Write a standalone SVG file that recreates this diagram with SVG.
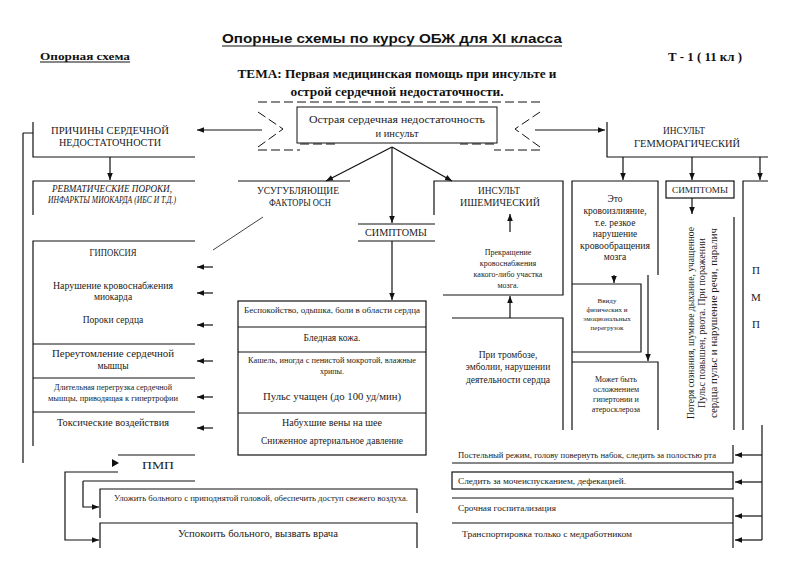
<svg xmlns="http://www.w3.org/2000/svg" width="800" height="565" viewBox="0 0 800 565">
<style>
.t{font-family:"Liberation Serif","Times New Roman",serif;font-size:9.5px;fill:#1a1a1a}
.c{text-anchor:middle}
.s{font-size:8px}
.xs{font-size:7px}
.b{font-size:10.5px}
.p{font-size:11px}
.ln{fill:none;stroke:#111;stroke-width:1.2}
.th{fill:none;stroke:#111;stroke-width:0.8}
.ds{fill:none;stroke:#111;stroke-width:1;stroke-dasharray:9 4}
.ar{fill:none;stroke:#111;stroke-width:1.2;marker-end:url(#ah)}
</style>
<defs>
<marker id="ah" viewBox="0 0 10 10" refX="10" refY="5" markerUnits="userSpaceOnUse" markerWidth="7" markerHeight="7" orient="auto"><path d="M0,1 L10,5 L0,9 z" fill="#111"/></marker>
</defs>
<rect width="800" height="565" fill="#fff"/>

<g id="header">
<text x="392" y="43" text-anchor="middle" font-family="Liberation Sans,Arial,sans-serif" font-weight="bold" font-size="13.5" fill="#111" textLength="340" lengthAdjust="spacingAndGlyphs">Опорные схемы по курсу ОБЖ для XI класса</text>
<line x1="222" y1="46" x2="562" y2="46" stroke="#111" stroke-width="1.2"/>
<text x="40" y="60" font-family="Liberation Serif,serif" font-weight="bold" font-size="11" fill="#111" textLength="90" lengthAdjust="spacingAndGlyphs">Опорная схема</text>
<line x1="40" y1="62" x2="130" y2="62" stroke="#111" stroke-width="1"/>
<text x="668" y="61" font-family="Liberation Serif,serif" font-weight="bold" font-size="12.5" fill="#111" textLength="74" lengthAdjust="spacingAndGlyphs">Т - 1 ( 11 кл )</text>
<text x="397" y="78" text-anchor="middle" font-family="Liberation Serif,serif" font-weight="bold" font-size="12.5" fill="#111" textLength="319" lengthAdjust="spacingAndGlyphs">ТЕМА: Первая медицинская помощь при инсульте и</text>
<text x="397" y="96" text-anchor="middle" font-family="Liberation Serif,serif" font-weight="bold" font-size="12.5" fill="#111" textLength="213" lengthAdjust="spacingAndGlyphs">острой сердечной недостаточности.</text>
</g>

<g id="banner">
<path class="ds" d="M258,102 H540 M258,112 L283,129 L258,147 M258,150 H300 M300,144 H335 M540,112 L515,129 L540,147 M540,150 H494 M494,144 H460"/>
<rect x="297" y="107" width="200" height="36" fill="#fff" stroke="#111" stroke-width="1"/>
<text class="t c b" x="397" y="123" textLength="176" lengthAdjust="spacingAndGlyphs">Острая сердечная недостаточность</text>
<text class="t c b" x="397" y="137">и инсульт</text>
</g>

<g id="prichiny">
<path class="ln" d="M23,133 H33 M33,122 V157 H195"/>
<text class="t c" x="110" y="134" textLength="118" lengthAdjust="spacingAndGlyphs">ПРИЧИНЫ СЕРДЕЧНОЙ</text>
<text class="t c" x="110" y="146" textLength="102" lengthAdjust="spacingAndGlyphs">НЕДОСТАТОЧНОСТИ</text>
</g>

<g id="revmat">
<path class="ln" d="M33,215 V181 H195"/>
<text class="t c" x="112" y="192" font-style="italic" textLength="120" lengthAdjust="spacingAndGlyphs">РЕВМАТИЧЕСКИЕ ПОРОКИ,</text>
<text class="t c" x="112" y="203" font-style="italic" textLength="128" lengthAdjust="spacingAndGlyphs">ИНФАРКТЫ МИОКАРДА (ИБС И Т.Д.)</text>
</g>

<g id="usug">
<path class="ln" d="M238,181 H350"/>
<text class="t c" x="298" y="194" textLength="82" lengthAdjust="spacingAndGlyphs">УСУГУБЛЯЮЩИЕ</text>
<text class="t c" x="300" y="206" textLength="62" lengthAdjust="spacingAndGlyphs">ФАКТОРЫ ОСН</text>
</g>

<g id="simptomy1">
<path class="ln" d="M358,224 H435 M358,241 H435"/>
<text class="t c" x="396" y="236" textLength="62" lengthAdjust="spacingAndGlyphs">СИМПТОМЫ</text>
</g>

<g id="causes">
<path class="ln" d="M195,241 H33 V446 M33,344 H195 M33,378 H195 M33,412 H195"/>
<text class="t c" x="113" y="256" textLength="47" lengthAdjust="spacingAndGlyphs">ГИПОКСИЯ</text>
<text class="t c" x="113" y="289" textLength="120" lengthAdjust="spacingAndGlyphs">Нарушение кровоснабжения</text>
<text class="t c" x="113" y="300">миокарда</text>
<text class="t c" x="113" y="323">Пороки сердца</text>
<text class="t c" x="113" y="357" textLength="122" lengthAdjust="spacingAndGlyphs">Переутомление сердечной</text>
<text class="t c" x="113" y="369">мышцы</text>
<text class="t c s" x="113" y="390" textLength="118" lengthAdjust="spacingAndGlyphs">Длительная перегрузка сердечной</text>
<text class="t c s" x="113" y="401" textLength="130" lengthAdjust="spacingAndGlyphs">мышцы, приводящая к гипертрофии</text>
<text class="t c" x="113" y="426" textLength="112" lengthAdjust="spacingAndGlyphs">Токсические воздействия</text>
</g>

<g id="symptoms">
<rect x="238" y="301" width="188" height="154" fill="none" stroke="#111" stroke-width="1.2"/>
<path class="ln" d="M238,327 H426 M238,352 H426 M238,413 H426"/>
<text class="t c s" x="332" y="313" textLength="176" lengthAdjust="spacingAndGlyphs">Беспокойство, одышка, боли в области сердца</text>
<text class="t c" x="332" y="341">Бледная кожа.</text>
<text class="t c s" x="332" y="363" textLength="168" lengthAdjust="spacingAndGlyphs">Кашель, иногда с пенистой мокротой, влажные</text>
<text class="t c s" x="332" y="374">хрипы.</text>
<text class="t c" x="332" y="400" textLength="138" lengthAdjust="spacingAndGlyphs">Пульс учащен (до 100 уд/мин)</text>
<text class="t c" x="332" y="426" textLength="100" lengthAdjust="spacingAndGlyphs">Набухшие вены на шее</text>
<text class="t c" x="332" y="444" textLength="142" lengthAdjust="spacingAndGlyphs">Сниженное артериальное давление</text>
</g>

<g id="ishem">
<path class="ln" d="M434,215 V181 H563 V295 H443"/>
<text class="t c" x="499" y="194" textLength="42" lengthAdjust="spacingAndGlyphs">ИНСУЛЬТ</text>
<text class="t c" x="500" y="206" textLength="80" lengthAdjust="spacingAndGlyphs">ИШЕМИЧЕСКИЙ</text>
<text class="t c s" x="508" y="255">Прекращение</text>
<text class="t c s" x="508" y="266">кровоснабжения</text>
<text class="t c s" x="508" y="277">какого-либо участка</text>
<text class="t c s" x="508" y="288">мозга.</text>
</g>

<g id="tromb">
<path class="ln" d="M452,318 H563 V430"/>
<text class="t c" x="508" y="358">При тромбозе,</text>
<text class="t c" x="508" y="370">эмболии, нарушении</text>
<text class="t c" x="508" y="383">деятельности сердца</text>
</g>

<g id="krovo">
<path class="ln" d="M572,430 V181 H658 V275"/>
<text class="t c" x="615" y="202">Это</text>
<text class="t c" x="615" y="214">кровоизлияние,</text>
<text class="t c" x="615" y="226">т.е. резкое</text>
<text class="t c" x="615" y="237">нарушение</text>
<text class="t c" x="615" y="249" textLength="70" lengthAdjust="spacingAndGlyphs">кровообращения</text>
<text class="t c" x="615" y="260">мозга</text>
</g>

<g id="vvidu">
<path class="ln" d="M572,284 H641 V352 H572"/>
<text class="t c xs" x="607" y="303">Ввиду</text>
<text class="t c xs" x="607" y="312">физических и</text>
<text class="t c xs" x="607" y="321">эмоциональных</text>
<text class="t c xs" x="607" y="330">перегрузок</text>
</g>

<g id="mozhet">
<path class="ln" d="M572,362 H658 V430"/>
<text class="t c s" x="616" y="382">Может быть</text>
<text class="t c s" x="616" y="392">осложнением</text>
<text class="t c s" x="616" y="402">гипертонии и</text>
<text class="t c s" x="616" y="412">атеросклероза</text>
</g>

<g id="gemm">
<path class="ln" d="M607,122 V157 H768"/>
<text class="t c" x="684" y="134" textLength="42" lengthAdjust="spacingAndGlyphs">ИНСУЛЬТ</text>
<text class="t c" x="687" y="147" textLength="106" lengthAdjust="spacingAndGlyphs">ГЕММОРАГИЧЕСКИЙ</text>
</g>

<g id="simptomy2">
<rect x="666" y="181" width="68" height="17" fill="none" stroke="#111" stroke-width="1.2"/>
<text class="t c s" x="700" y="193" textLength="56" lengthAdjust="spacingAndGlyphs">СИМПТОМЫ</text>
</g>

<g id="rot">
<path class="ln" d="M734,217 V430"/>
<text class="t c" transform="translate(694,323) rotate(-90)" textLength="192" lengthAdjust="spacingAndGlyphs">Потеря сознания, шумное дыхание, учащенное</text>
<text class="t c" transform="translate(705,323) rotate(-90)" textLength="170" lengthAdjust="spacingAndGlyphs">Пульс повышен, рвота. При поражении</text>
<text class="t c" transform="translate(717,323) rotate(-90)" textLength="190" lengthAdjust="spacingAndGlyphs">сердца пульс и нарушение речи, паралич</text>
</g>

<g id="pmp-right">
<path class="ln" d="M768,181 H743 V430"/>
<text class="t c p" x="756" y="274">П</text>
<text class="t c p" x="756" y="301">М</text>
<text class="t c p" x="756" y="328">П</text>
</g>

<g id="postel">
<path class="ln" d="M452,463 H733 V445"/>
<text class="t s" x="458" y="458" textLength="258" lengthAdjust="spacingAndGlyphs">Постельный режим, голову повернуть набок, следить за полостью рта</text>
</g>
<g id="sledit">
<rect x="452" y="472" width="281" height="17" fill="none" stroke="#111" stroke-width="1.2"/>
<text class="t s" x="458" y="484" textLength="168" lengthAdjust="spacingAndGlyphs">Следить за мочеиспусканием, дефекацией.</text>
</g>
<g id="gospit">
<path class="ln" d="M452,498 H733 V548 M452,523 H733"/>
<text class="t s" x="458" y="511" textLength="98" lengthAdjust="spacingAndGlyphs">Срочная госпитализация</text>
<text class="t s" x="462" y="537" textLength="170" lengthAdjust="spacingAndGlyphs">Транспортировка только с медработником</text>
</g>

<g id="pmp-left">
<path class="ln" d="M118,455 H195 M83,481 H195"/>
<text class="t c" x="158" y="469" textLength="32" lengthAdjust="spacingAndGlyphs">ПМП</text>
</g>
<g id="ulozhit">
<path class="ln" d="M100,518 V489 H417 V513"/>
<text class="t s" x="114" y="501" textLength="294" lengthAdjust="spacingAndGlyphs">Уложить больного с приподнятой головой, обеспечить доступ свежего воздуха.</text>
</g>
<g id="uspokoit">
<path class="ln" d="M100,548 V523 H417 V548"/>
<text class="t c" x="258" y="537" textLength="160" lengthAdjust="spacingAndGlyphs">Успокоить больного, вызвать врача</text>
</g>

<g id="connectors">
<line class="ar" x1="262" y1="130" x2="197" y2="130"/>
<line class="ar" x1="535" y1="130" x2="605" y2="130"/>
<line class="ar" x1="110" y1="157" x2="110" y2="180"/>
<line class="ar" x1="392" y1="147" x2="326" y2="181"/>
<line class="ar" x1="392" y1="147" x2="392" y2="223"/>
<line class="ar" x1="392" y1="147" x2="452" y2="181"/>
<line class="ar" x1="392" y1="241" x2="392" y2="300"/>
<line class="th" x1="263" y1="217" x2="213" y2="250"/>
<line class="ar" x1="213" y1="267" x2="197" y2="267"/>
<line class="ar" x1="213" y1="293" x2="197" y2="293"/>
<line class="ar" x1="213" y1="325" x2="197" y2="325"/>
<line class="ar" x1="213" y1="361" x2="197" y2="361"/>
<line class="ar" x1="213" y1="397" x2="197" y2="397"/>
<line class="ar" x1="213" y1="428" x2="197" y2="428"/>
<line class="ln" x1="23" y1="133" x2="23" y2="463"/>
<path d="M112,459 L119,463 L112,467 z" fill="#111"/>
<line class="ar" x1="510" y1="232" x2="510" y2="214"/>
<line class="ar" x1="510" y1="318" x2="510" y2="296"/>
<line class="ar" x1="623" y1="157" x2="623" y2="180"/>
<line class="ar" x1="692" y1="157" x2="692" y2="180"/>
<line class="ar" x1="760" y1="157" x2="760" y2="180"/>
<line class="ar" x1="692" y1="198" x2="692" y2="214"/>
<line class="ar" x1="614" y1="275" x2="614" y2="283"/>
<line class="ar" x1="648" y1="275" x2="648" y2="361"/>
<line class="ln" x1="762" y1="425" x2="762" y2="540"/>
<line class="ar" x1="762" y1="455" x2="735" y2="455"/>
<line class="ar" x1="762" y1="482" x2="735" y2="482"/>
<line class="ar" x1="762" y1="516" x2="735" y2="516"/>
<line class="ar" x1="762" y1="540" x2="735" y2="540"/>
<path class="ar" d="M118,472 H65 V540 H99"/>
<path class="ar" d="M83,481 V507 H99"/>
</g>
</svg>
